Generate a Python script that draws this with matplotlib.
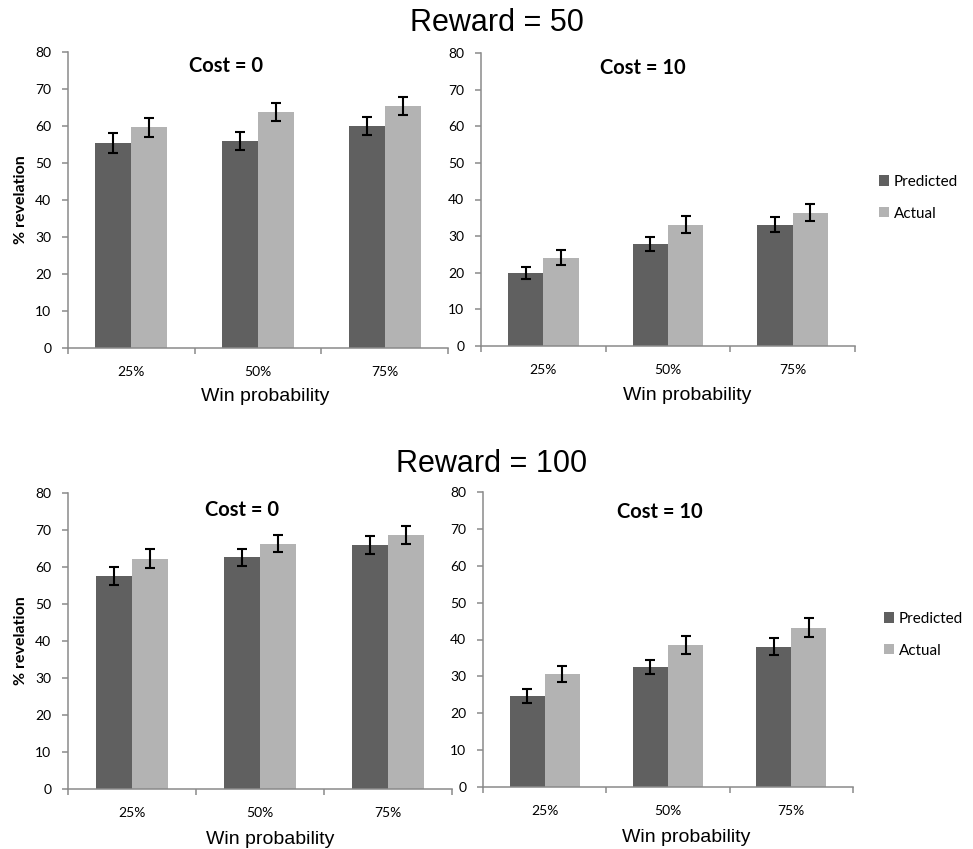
import matplotlib
matplotlib.use("Agg")
import matplotlib.pyplot as plt
from matplotlib.patches import Patch
import numpy as np

categories = ["25%", "50%", "75%"]
series_names = ["Predicted", "Actual"]

# Reward = 50
r50_c0_pred = [55.4, 55.9, 60.0]
r50_c0_pred_err = [2.6, 2.5, 2.4]
r50_c0_act = [59.6, 63.8, 65.5]
r50_c0_act_err = [2.6, 2.4, 2.4]

r50_c10_pred = [19.9, 27.9, 33.1]
r50_c10_pred_err = [1.6, 1.9, 2.1]
r50_c10_act = [24.1, 33.1, 36.4]
r50_c10_act_err = [2.0, 2.3, 2.4]

# Reward = 100
r100_c0_pred = [57.5, 62.6, 65.9]
r100_c0_pred_err = [2.4, 2.3, 2.5]
r100_c0_act = [62.2, 66.3, 68.6]
r100_c0_act_err = [2.6, 2.3, 2.5]

r100_c10_pred = [24.6, 32.5, 38.1]
r100_c10_pred_err = [1.95, 1.9, 2.35]
r100_c10_act = [30.7, 38.6, 43.2]
r100_c10_act_err = [2.15, 2.45, 2.6]

panel_titles = ["Cost = 0", "Cost = 10", "Cost = 0", "Cost = 10"]
row_titles = ["Reward = 50", "Reward = 100"]
y_ticks = [0, 10, 20, 30, 40, 50, 60, 70, 80]

DARK = "#606060"
LIGHT = "#b3b3b3"
SPINE = "#8a8a8a"
TICKFONT = "Lato"
ARIAL = "Liberation Sans"

W, H = 973, 849
fig = plt.figure(figsize=(W / 100, H / 100), dpi=100)


def rect(left, right, top, bottom):
    return [left / W, 1 - bottom / H, (right - left) / W, (bottom - top) / H]


axes_rects = [
    rect(68, 448, 52, 348),
    rect(481, 855, 53, 346),
    rect(68, 452, 493, 789),
    rect(483, 853, 492, 787),
]

panels = [
    (r50_c0_pred, r50_c0_pred_err, r50_c0_act, r50_c0_act_err),
    (r50_c10_pred, r50_c10_pred_err, r50_c10_act, r50_c10_act_err),
    (r100_c0_pred, r100_c0_pred_err, r100_c0_act, r100_c0_act_err),
    (r100_c10_pred, r100_c10_pred_err, r100_c10_act, r100_c10_act_err),
]

cost_pos = [(0.75, 76.3), (0.80, 75.8), (0.86, 75.3), (0.93, 74.6)]
xlabel_x = [0.52, 0.55, 0.526, 0.55]
xlabel_y = [-0.165, -0.17, -0.172, -0.172]

x = np.arange(len(categories))
bw = 0.284

for i, (r, (p, pe, a, ae)) in enumerate(zip(axes_rects, panels)):
    ax = fig.add_axes(r)
    ax.bar(x - bw / 2, p, bw, color=DARK, zorder=2)
    ax.bar(x + bw / 2, a, bw, color=LIGHT, zorder=2)
    ax.errorbar(x - bw / 2, p, yerr=pe, fmt="none", ecolor="black",
                elinewidth=1.5, capsize=3.3, capthick=1.5, zorder=3)
    ax.errorbar(x + bw / 2, a, yerr=ae, fmt="none", ecolor="black",
                elinewidth=1.5, capsize=3.3, capthick=1.5, zorder=3)
    ax.set_xlim(-0.5, len(categories) - 0.5)
    ax.set_ylim(0, 80)
    ax.set_yticks(y_ticks)
    ax.set_yticklabels([str(v) for v in y_ticks], fontfamily=TICKFONT, fontsize=10)
    ax.set_xticks(np.arange(len(categories) + 1) - 0.5)
    ax.set_xticklabels([])
    ax.set_xticks(x, minor=True)
    ax.set_xticklabels(categories, minor=True, fontfamily=TICKFONT, fontsize=10)
    ax.tick_params(axis="x", which="major", direction="out", length=4.5,
                   width=1.1, color=SPINE)
    ax.tick_params(axis="x", which="minor", length=0, pad=13)
    ax.tick_params(axis="y", direction="out", length=4, width=1.1,
                   color=SPINE, pad=8)
    for s in ["top", "right"]:
        ax.spines[s].set_visible(False)
    for s in ["left", "bottom"]:
        ax.spines[s].set_color(SPINE)
        ax.spines[s].set_linewidth(1.1)
    ax.text(cost_pos[i][0], cost_pos[i][1], panel_titles[i], ha="center",
            va="center", fontfamily=TICKFONT, fontweight="bold", fontsize=14.5)
    ax.text(xlabel_x[i], xlabel_y[i], "Win probability", transform=ax.transAxes,
            ha="center", va="center", fontfamily=ARIAL, fontsize=14)
    if i in (0, 2):
        ax.set_ylabel("% revelation", fontfamily=TICKFONT, fontweight="bold",
                      fontsize=11.5, labelpad=5)

fig.text(497 / W, 1 - 23 / H, row_titles[0], ha="center", va="center",
         fontfamily=ARIAL, fontsize=22)
fig.text(492 / W, 1 - 464 / H, row_titles[1], ha="center", va="center",
         fontfamily=ARIAL, fontsize=22)

handles = [Patch(facecolor=DARK, edgecolor="none"),
           Patch(facecolor=LIGHT, edgecolor="none")]
for (lx, ly) in [(879, 175), (884, 612)]:
    fig.legend(handles, series_names, loc="upper left",
               bbox_to_anchor=(lx / W, 1 - ly / H), frameon=False,
               handlelength=0.66, handleheight=0.66, handletextpad=0.3,
               labelspacing=1.15, borderpad=0, borderaxespad=0,
               prop={"family": TICKFONT, "size": 11})

fig.savefig("out.png", dpi=100)
